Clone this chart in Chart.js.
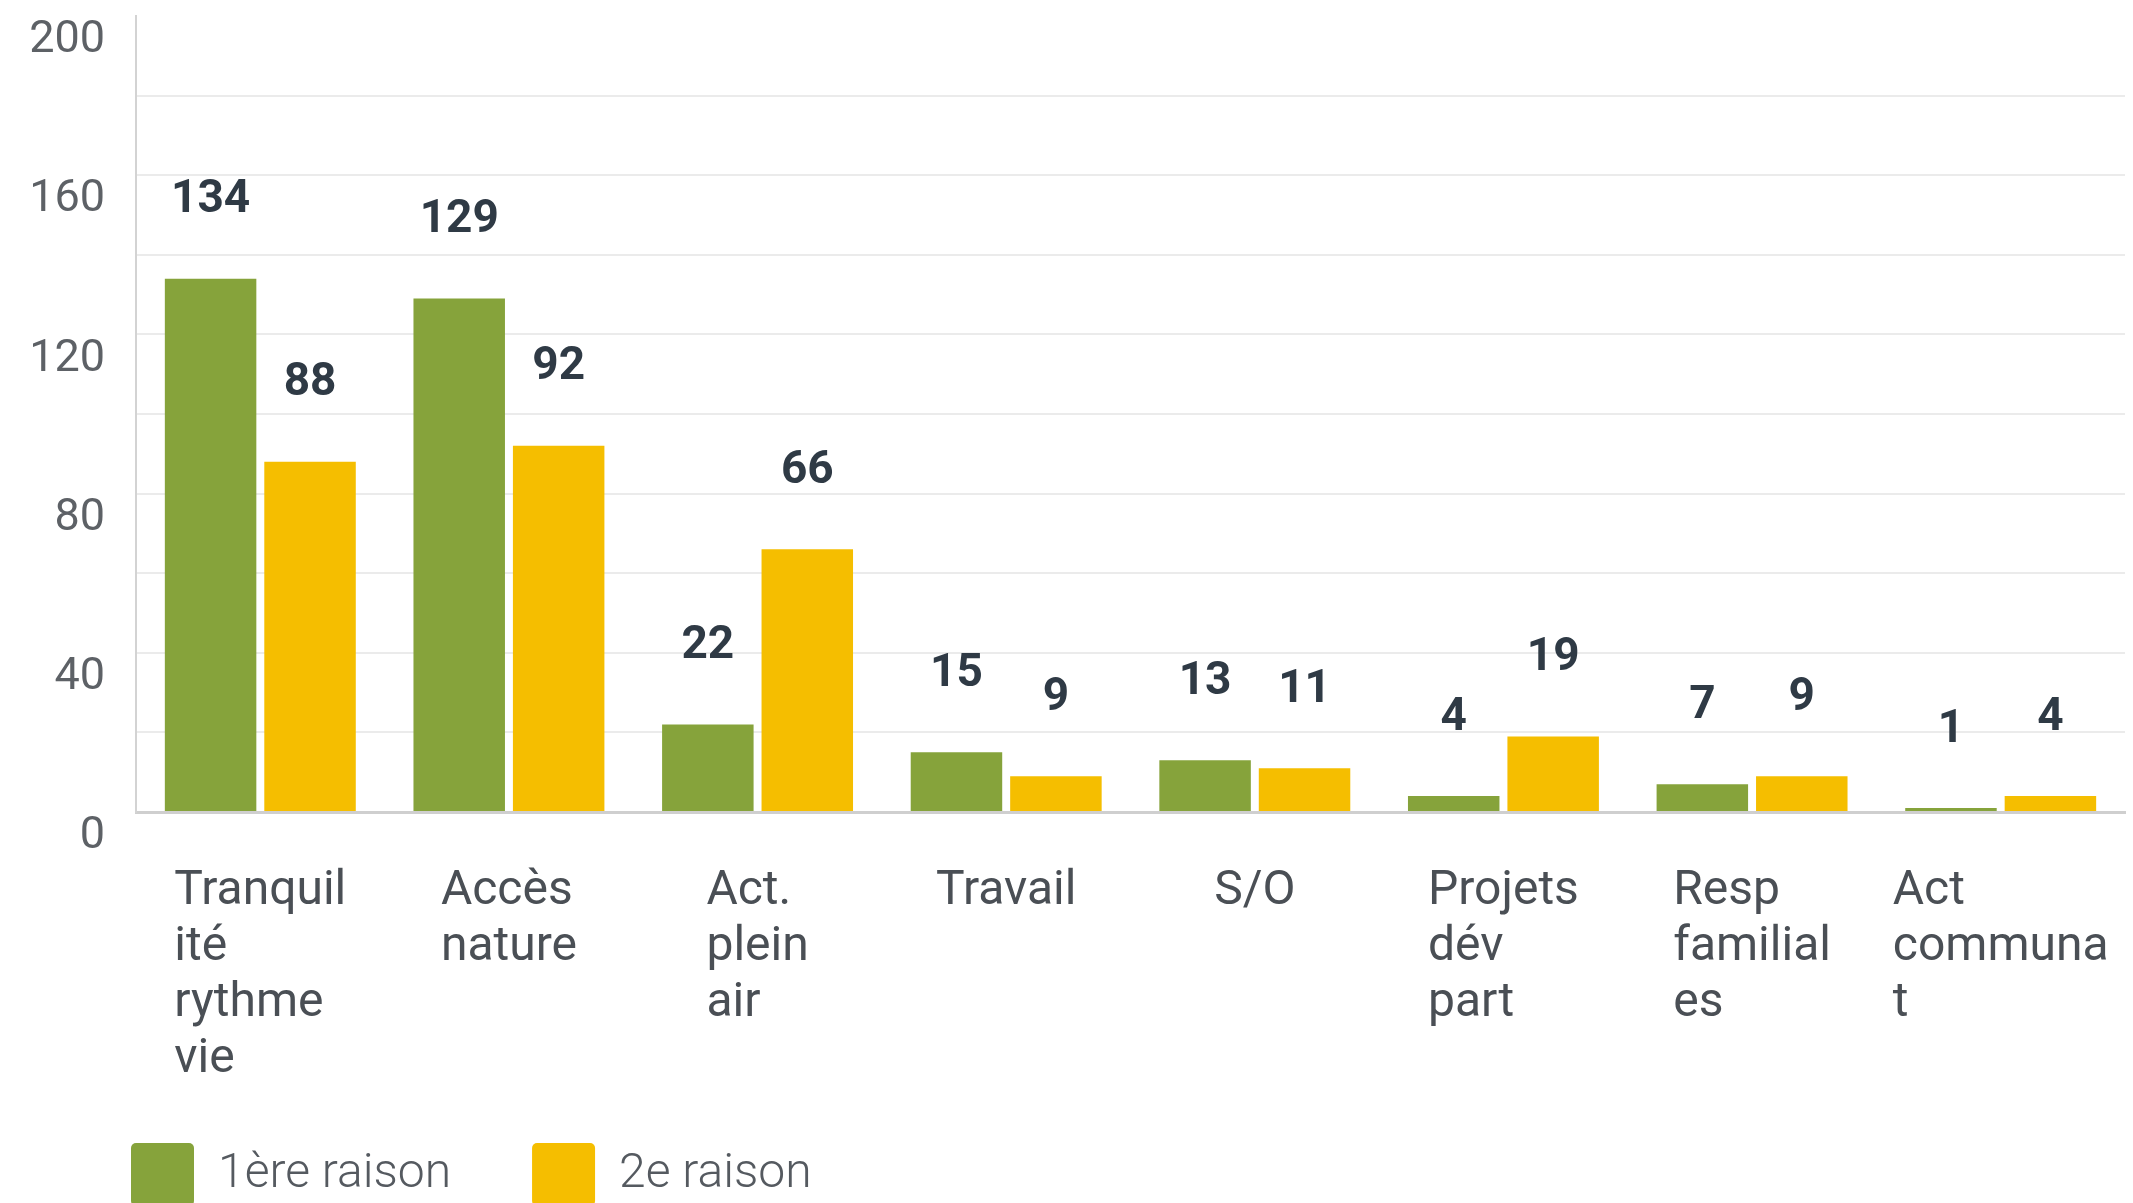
<!DOCTYPE html>
<html lang="fr">
<head>
<meta charset="UTF-8">
<title>Raisons</title>
<script src="https://cdn.jsdelivr.net/npm/chart.js"></script>
<style>
  html, body { margin: 0; padding: 0; background: #fff; overflow: hidden; }
  #wrap { width: 2133px; height: 1230px; }
</style>
</head>
<body>
<div id="wrap"><canvas id="chart"></canvas></div>
<script>
// catégories, coupées en lignes comme sur l'image
const categories = [
  ['Tranquil', 'ité', 'rythme', 'vie'],
  ['Accès', 'nature'],
  ['Act.', 'plein', 'air'],
  ['Travail'],
  ['S/O'],
  ['Projets', 'dév', 'part'],
  ['Resp', 'familial', 'es'],
  ['Act', 'communa', 't']
];
const premiere = [134, 129, 22, 15, 13, 4, 7, 1];
const deuxieme = [88, 92, 66, 9, 11, 19, 9, 4];
const yTicks = [0, 40, 80, 120, 160, 200];
const seriesNames = ['1ère raison', '2e raison'];

const FONT = 'Roboto, sans-serif';

// valeurs au-dessus des barres
const valueLabels = {
  id: 'valueLabels',
  afterDatasetsDraw(chart) {
    const ctx = chart.ctx;
    ctx.save();
    ctx.font = `bold 46px ${FONT}`;
    ctx.fillStyle = '#2f3a45';
    ctx.textAlign = 'center';
    ctx.textBaseline = 'middle';
    chart.data.datasets.forEach((ds, i) => {
      chart.getDatasetMeta(i).data.forEach((bar, j) => {
        ctx.fillText(ds.data[j], bar.x, bar.y - 78);
      });
    });
    ctx.restore();
  }
};

// étiquettes de l'axe x : bloc centré, lignes alignées à gauche
const xLabels = {
  id: 'xLabels',
  afterDraw(chart) {
    const ctx = chart.ctx;
    const xs = chart.scales.x;
    const top = chart.chartArea.bottom + 80;
    ctx.save();
    ctx.font = `48px ${FONT}`;
    ctx.fillStyle = '#4a4f55';
    ctx.textAlign = 'left';
    ctx.textBaseline = 'middle';
    categories.forEach((lines, i) => {
      const w = Math.max(...lines.map(l => ctx.measureText(l).width));
      const left = xs.getPixelForValue(i) - w / 2;
      lines.forEach((l, k) => ctx.fillText(l, left, top + k * 56));
    });
    ctx.restore();
  }
};

// la légende commence un peu plus à droite que le bord du canvas
const legendShift = {
  id: 'legendShift',
  afterLayout(chart) {
    chart.legend.left += 50;
    chart.legend.right += 50;
  }
};

new Chart(document.getElementById('chart'), {
  type: 'bar',
  data: {
    labels: categories,
    datasets: [
      { label: seriesNames[0], data: premiere, backgroundColor: '#86a33b', categoryPercentage: 0.8, barPercentage: 0.92 },
      { label: seriesNames[1], data: deuxieme, backgroundColor: '#f5be00', categoryPercentage: 0.8, barPercentage: 0.92 }
    ]
  },
  options: {
    responsive: true,
    maintainAspectRatio: false,
    animation: false,
    layout: { padding: { left: 0, right: 8, top: 16, bottom: 14 } },
    plugins: {
      legend: {
        position: 'bottom',
        align: 'start',
        labels: {
          boxWidth: 63, boxHeight: 63, padding: 81,
          useBorderRadius: true, borderRadius: 5,
          color: '#555a60',
          font: { family: FONT, size: 48, weight: '300' }
        }
      },
      tooltip: { enabled: false }
    },
    scales: {
      x: {
        ticks: { display: false },
        grid: { display: false },
        border: { color: '#cfcfcf', width: 3 },
        afterFit: s => { s.height = 250; }
      },
      y: {
        min: 0,
        max: 200,
        ticks: {
          stepSize: 20, padding: 31, labelOffset: 25,
          color: '#5d6166',
          font: { family: FONT, size: 45 },
          callback: v => yTicks.includes(v) ? v : ''
        },
        grid: {
          color: c => c.tick && c.tick.value === 200 ? 'rgba(0,0,0,0)' : '#ebebeb',
          lineWidth: 2,
          drawTicks: false
        },
        border: { color: '#d3d3d3', width: 2 },
        afterFit: s => { s.width = 136; s.paddingTop = 0; s.paddingBottom = 0; }
      }
    }
  },
  plugins: [valueLabels, xLabels, legendShift]
});
</script>
</body>
</html>
